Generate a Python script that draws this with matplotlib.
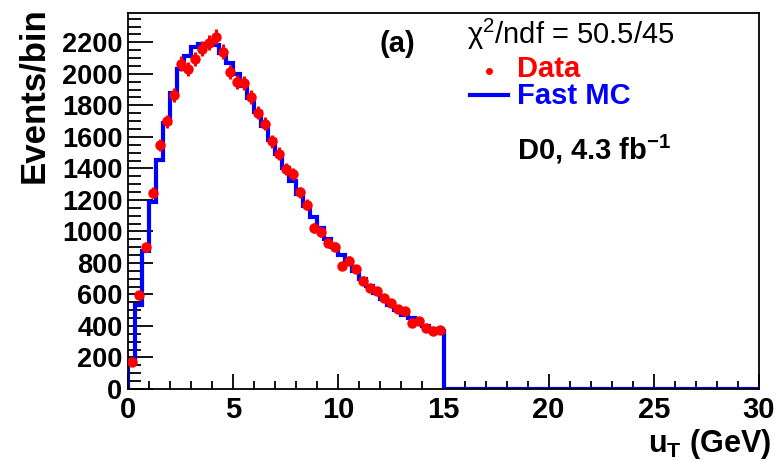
import numpy as np
import matplotlib
matplotlib.use("Agg")
import matplotlib.pyplot as plt
from matplotlib.ticker import MultipleLocator

plt.rcParams['font.family'] = ['Liberation Sans', 'DejaVu Sans']
plt.rcParams['mathtext.fontset'] = 'custom'
plt.rcParams['mathtext.rm'] = 'Liberation Sans'
plt.rcParams['mathtext.it'] = 'Liberation Sans:italic'
plt.rcParams['mathtext.bf'] = 'Liberation Sans:bold'

# ---- data ----
bin_width = 1.0 / 3.0
x_range = (0.0, 30.0)
data_counts = [170, 595, 900, 1245, 1550, 1700, 1865, 2065, 2030, 2095,
               2160, 2198, 2236, 2140, 2011, 1950, 1943, 1854, 1753, 1684,
               1572, 1494, 1395, 1365, 1247, 1170, 1024, 999, 929, 904,
               781, 813, 762, 688, 643, 624, 576, 544, 508, 495,
               417, 432, 385, 370, 375]
mc_counts = [165, 535, 875, 1185, 1455, 1690, 1880, 2030, 2115, 2170,
             2190, 2190, 2180, 2130, 2070, 2000, 1925, 1845, 1760, 1670,
             1580, 1490, 1405, 1320, 1240, 1160, 1090, 1020, 955, 900,
             850, 800, 750, 700, 655, 612, 572, 535, 502, 470,
             448, 424, 402, 383, 365]
y_ticks = [0, 200, 400, 600, 800, 1000, 1200, 1400, 1600, 1800, 2000, 2200]
x_ticks = [0, 5, 10, 15, 20, 25, 30]

W, H = 781, 462
fig = plt.figure(figsize=(W / 100, H / 100), dpi=100)
ax = fig.add_axes([128 / W, 1 - 389 / H, (759 - 128) / W, (389 - 13) / H])

n_total = int(round((x_range[1] - x_range[0]) / bin_width))
edges = x_range[0] + bin_width * np.arange(n_total + 1)
mc_full = np.zeros(n_total)
mc_full[:len(mc_counts)] = mc_counts
ax.stairs(mc_full, edges, color='#0000ff', lw=3, baseline=0, zorder=2)

d = np.array(data_counts, dtype=float)
centers = edges[:len(d)] + bin_width / 2
ax.errorbar(centers, d, yerr=np.sqrt(d), fmt='o', color='#ff0000',
            markersize=6.5, elinewidth=2.2, capsize=0, zorder=3)

ax.set_xlim(*x_range)
ax.set_ylim(0, 2386)
ax.set_xticks(x_ticks)
ax.set_yticks(y_ticks)
ax.xaxis.set_minor_locator(MultipleLocator(1))
ax.yaxis.set_minor_locator(MultipleLocator(50))
ax.tick_params(axis='y', which='major', direction='in', length=18, width=1.3, pad=4)
ax.tick_params(axis='y', which='minor', direction='in', length=9, width=1.3)
ax.tick_params(axis='x', which='major', direction='in', length=11, width=1.3, pad=5)
ax.tick_params(axis='x', which='minor', direction='in', length=5.5, width=1.3)
for lab in ax.get_yticklabels():
    lab.set_fontsize(19.5)
    lab.set_fontweight('bold')
for lab in ax.get_xticklabels():
    lab.set_fontsize(21)
    lab.set_fontweight('bold')
for s in ax.spines.values():
    s.set_linewidth(1.3)

fig.text(34 / W, 1 - 7 / H, 'Events/bin', rotation=90, ha='center', va='top',
         fontsize=25, fontweight='bold')
fig.text(771 / W, 1 / H, r'u$_{\mathbf{T}}$ (GeV)', ha='right', va='bottom',
         fontsize=22, fontweight='bold')

fig.text(397 / W, 1 - 44 / H, '(a)', ha='center', va='center',
         fontsize=21, fontweight='bold')
fig.text(467 / W, 1 - 34 / H, 'χ$^{2}$/ndf = 50.5/45', ha='left', va='center',
         fontsize=21)
fig.text(517 / W, 1 - 69 / H, 'Data', ha='left', va='center',
         fontsize=21, fontweight='bold', color='#ff0000')
fig.text(517 / W, 1 - 96 / H, 'Fast MC', ha='left', va='center',
         fontsize=21, fontweight='bold', color='#0000ff')
fig.lines.append(plt.Line2D([489 / W], [1 - 71 / H], marker='o', markersize=4,
                            color='#ff0000', transform=fig.transFigure))
fig.lines.append(plt.Line2D([470 / W, 508 / W], [1 - 95 / H, 1 - 95 / H], lw=3,
                            color='#0000ff', transform=fig.transFigure))
fig.text(517 / W, 1 - 149 / H, r'D0, 4.3 fb$^{\mathbf{-1}}$', ha='left', va='center',
         fontsize=21, fontweight='bold')

fig.savefig('out.png', dpi=100)
